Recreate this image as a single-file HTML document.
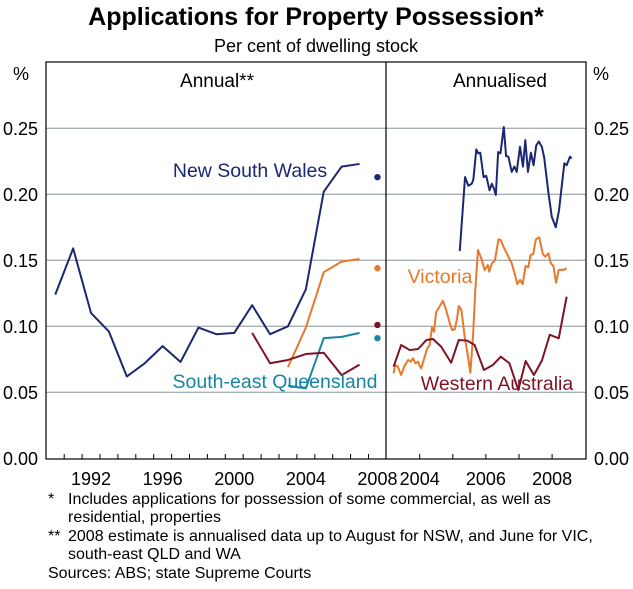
<!DOCTYPE html>
<html><head><meta charset="utf-8"><style>
html,body{margin:0;padding:0;background:#fff;}
svg{display:block;font-family:"Liberation Sans",Arial,sans-serif;}
</style></head><body>
<svg id="chart" width="633" height="589" viewBox="0 0 633 589" xmlns="http://www.w3.org/2000/svg">
<text x="316" y="25" text-anchor="middle" font-size="25" font-weight="bold">Applications for Property Possession*</text>
<text x="316" y="52" text-anchor="middle" font-size="18">Per cent of dwelling stock</text>
<text x="21" y="80" text-anchor="middle" font-size="18">%</text>
<text x="601" y="80" text-anchor="middle" font-size="18">%</text>
<text x="217" y="87" text-anchor="middle" font-size="19">Annual**</text>
<text x="500" y="87" text-anchor="middle" font-size="19">Annualised</text>
<g id="grid"></g>
<g id="yticks"></g>
<g id="xticks"></g>
<g id="series"></g>
<rect x="46" y="62" width="540" height="397" fill="none" stroke="#000" stroke-width="1.2"/>
<line x1="386" y1="62" x2="386" y2="459" stroke="#000" stroke-width="1.2"/>
<text x="250" y="177" text-anchor="middle" font-size="19.5" fill="#1c2771">New South Wales</text>
<text x="275" y="388" text-anchor="middle" font-size="19.5" fill="#1786a3">South-east Queensland</text>
<text x="440" y="283" text-anchor="middle" font-size="19.5" fill="#e8782a">Victoria</text>
<text x="497" y="390" text-anchor="middle" font-size="19.5" fill="#7d1425">Western Australia</text>
<g font-size="16">
<text x="48" y="504">*</text><text x="68" y="504">Includes applications for possession of some commercial, as well as</text>
<text x="68" y="522">residential, properties</text>
<text x="48" y="541">**</text><text x="68" y="541">2008 estimate is annualised data up to August for NSW, and June for VIC,</text>
<text x="68" y="559">south-east QLD and WA</text>
<text x="48" y="578">Sources: ABS; state Supreme Courts</text>
</g>
</svg>
<script>
const yTicks=[0,0.05,0.10,0.15,0.20,0.25];
const yTickLabels=["0.00","0.05","0.10","0.15","0.20","0.25"];
const annualYears=[1990,1991,1992,1993,1994,1995,1996,1997,1998,1999,2000,2001,2002,2003,2004,2005,2006,2007];
const nswAnnual=[0.124,0.159,0.110,0.096,0.062,0.072,0.085,0.073,0.099,0.094,0.095,0.116,0.094,0.100,0.128,0.202,0.221,0.223];
const vicYears=[2003,2004,2005,2006,2007];
const vicAnnual=[0.069,0.099,0.141,0.149,0.151];
const seqAnnual=[0.055,0.053,0.091,0.092,0.095];
const waYears=[2001,2002,2003,2004,2005,2006,2007];
const waAnnual=[0.095,0.072,0.0745,0.079,0.080,0.063,0.071];
const est2008=[0.213,0.144,0.101,0.091];
const leftTickLabels=["1992","1996","2000","2004","2008"];
const rightTickLabels=["2004","2006","2008"];
const nswT=[2005.21,2005.37,2005.47,2005.57,2005.62,2005.71,2005.77,2005.83,2005.93,2006.01,2006.11,2006.18,2006.24,2006.30,2006.37,2006.44,2006.54,2006.61,2006.68,2006.78,2006.86,2006.93,2007.03,2007.12,2007.19,2007.27,2007.36,2007.44,2007.52,2007.60,2007.69,2007.76,2007.89,2007.99,2008.11,2008.21,2008.29,2008.37,2008.44,2008.54,2008.59];
const nswV=[0.157,0.213,0.2065,0.208,0.211,0.234,0.231,0.2315,0.213,0.214,0.203,0.208,0.2045,0.1995,0.232,0.231,0.251,0.229,0.2285,0.217,0.221,0.217,0.236,0.221,0.241,0.217,0.2315,0.222,0.237,0.240,0.236,0.228,0.201,0.183,0.175,0.188,0.206,0.2235,0.222,0.2285,0.227];
const vicT=[2003.21,2003.26,2003.34,2003.44,2003.53,2003.65,2003.73,2003.80,2003.87,2003.95,2004.00,2004.05,2004.15,2004.23,2004.30,2004.37,2004.43,2004.50,2004.57,2004.70,2004.80,2004.91,2004.98,2005.06,2005.13,2005.18,2005.26,2005.36,2005.46,2005.53,2005.61,2005.68,2005.76,2005.86,2005.96,2006.06,2006.10,2006.18,2006.27,2006.38,2006.45,2006.53,2006.63,2006.78,2006.88,2006.95,2007.03,2007.11,2007.20,2007.28,2007.35,2007.43,2007.51,2007.61,2007.72,2007.79,2007.89,2007.96,2008.04,2008.12,2008.20,2008.34,2008.44];
const vicV=[0.0644,0.0707,0.0694,0.0631,0.0694,0.0745,0.0732,0.0758,0.072,0.0732,0.0699,0.0682,0.077,0.0833,0.0858,0.0992,0.0959,0.1111,0.1136,0.1194,0.1123,0.1023,0.0972,0.0977,0.1061,0.1154,0.1123,0.0921,0.077,0.0648,0.0921,0.1275,0.1578,0.1515,0.1427,0.1464,0.1414,0.1477,0.1497,0.1659,0.1654,0.1603,0.1553,0.1477,0.1389,0.132,0.1351,0.132,0.1457,0.1447,0.154,0.1548,0.1659,0.1674,0.1548,0.1527,0.1553,0.1477,0.1457,0.133,0.1427,0.1427,0.1439];
const waT=[2003.21,2003.44,2003.70,2003.95,2004.20,2004.40,2004.65,2004.95,2005.18,2005.44,2005.66,2005.94,2006.21,2006.45,2006.71,2006.98,2007.20,2007.45,2007.69,2007.93,2008.20,2008.44];
const waV=[0.0694,0.0858,0.082,0.0828,0.0896,0.0904,0.0845,0.0724,0.0896,0.0891,0.0858,0.0669,0.0707,0.077,0.072,0.0517,0.0737,0.0631,0.0739,0.0936,0.0909,0.1224];

const NS="http://www.w3.org/2000/svg";
const Y0=458.3, YPX=1320;
function y(v){return Y0-v*YPX;}
function xL(yr){return 46.3+(yr-1990+0.5)*17.9;}
function xR(t){return 419.7+(t-2004)*33.1;}
function mk(tag,attrs,parent){const e=document.createElementNS(NS,tag);for(const k in attrs)e.setAttribute(k,attrs[k]);parent.appendChild(e);return e;}
const grid=document.getElementById('grid'),yt=document.getElementById('yticks'),xt=document.getElementById('xticks'),ser=document.getElementById('series');
yTicks.forEach((v,i)=>{
  if(v>0){const l=mk('line',{x1:46,x2:586,y1:y(v),y2:y(v),stroke:'#a9b0b4','stroke-width':1.3},grid);
  
  }
  const a=mk('text',{x:38,y:y(v)+6.5,'text-anchor':'end','font-size':18},yt);a.textContent=yTickLabels[i];
  
  
  const b=mk('text',{x:594,y:y(v)+6.5,'font-size':18},yt);b.textContent=yTickLabels[i];
  
  
});
for(let yr=1991;yr<=2008;yr++){const x=46.3+(yr-1990)*17.9;mk('line',{x1:x,x2:x,y1:459,y2:454,stroke:'#000'},xt);}
leftTickLabels.forEach(s=>{const t=mk('text',{x:xL(+s),y:485,'text-anchor':'middle','font-size':18},xt);t.textContent=s;
  
  });
for(let k=2004;k<=2008;k++)mk('line',{x1:xR(k),x2:xR(k),y1:459,y2:454,stroke:'#000'},xt);
rightTickLabels.forEach(s=>{const t=mk('text',{x:xR(+s),y:485,'text-anchor':'middle','font-size':18},xt);t.textContent=s;
  
  });
function line(xs,vs,fx,col,name){const p=mk('polyline',{points:xs.map((t,i)=>fx(t)+','+y(vs[i])).join(' '),fill:'none',stroke:col,'stroke-width':2,'stroke-linejoin':'round'},ser);
  
  }
const C={nsw:'#1c2771',vic:'#e8782a',seq:'#1786a3',wa:'#7d1425'};
line(annualYears,nswAnnual,xL,C.nsw,'nsw-annual-line');
line(vicYears,vicAnnual,xL,C.vic,'vic-annual-line');
line(vicYears,seqAnnual,xL,C.seq,'seq-annual-line');
line(waYears,waAnnual,xL,C.wa,'wa-annual-line');
[C.nsw,C.vic,C.wa,C.seq].forEach((c,i)=>{const d=mk('circle',{cx:xL(2008),cy:y(est2008[i]),r:3.2,fill:c},ser);
  
  });
line(nswT,nswV,xR,C.nsw,'nsw-annualised-line');
line(vicT,vicV,xR,C.vic,'vic-annualised-line');
line(waT,waV,xR,C.wa,'wa-annualised-line');
</script>
</body></html>
